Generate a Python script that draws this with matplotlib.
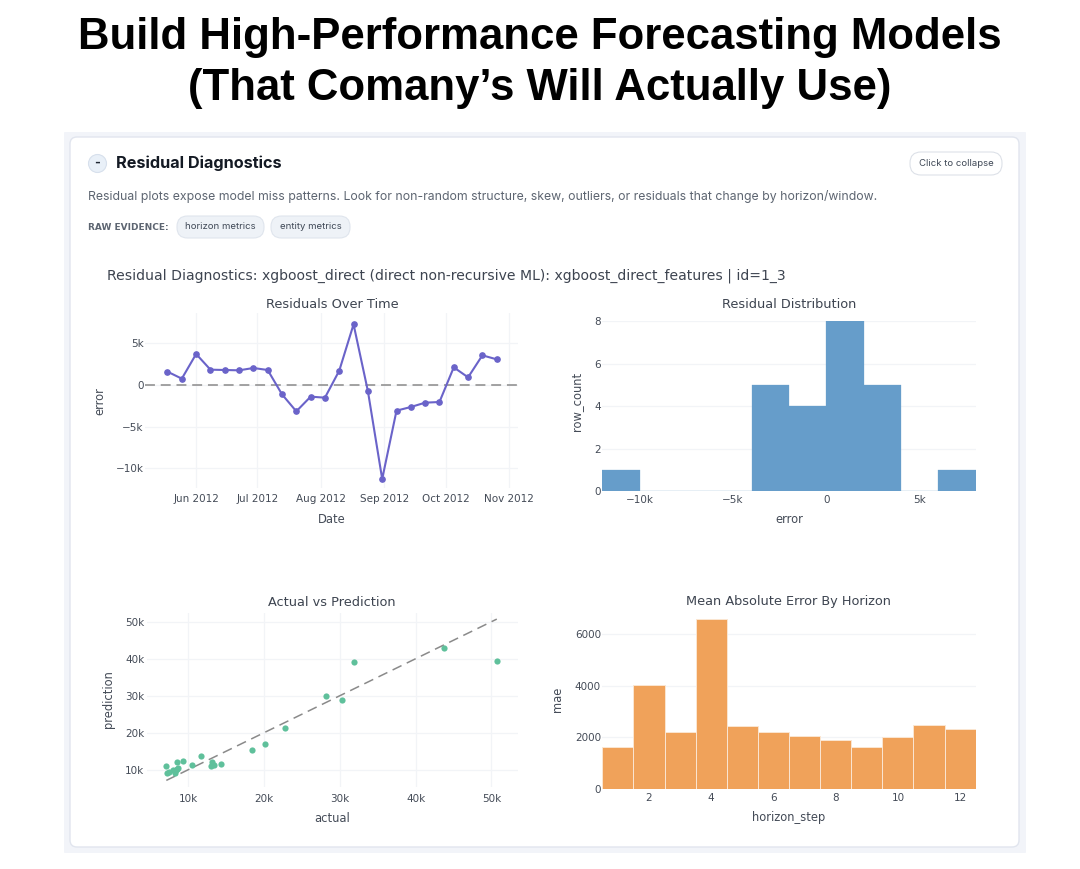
import matplotlib
matplotlib.use("Agg")
import matplotlib.pyplot as plt
import matplotlib.dates as mdates
import pandas as pd
from matplotlib.patches import FancyBboxPatch, Circle

W, H = 1080, 869

# ---- data ----
dates = pd.date_range("2012-05-18", periods=24, freq="7D")
residuals = [1600, 760, 3720, 1840, 1800, 1760, 2040, 1800, -1120, -3160, -1400, -1520,
             1720, 7280, -720, -11280, -3080, -2640, -2120, -2040, 2120, 920, 3560, 3080]
hist_edges = [-12000, -10000, -8000, -6000, -4000, -2000, 0, 2000, 4000, 6000, 8000]
actual = [7.1, 7.2, 7.5, 8.0, 8.2, 8.4, 8.5, 8.55, 8.7, 9.3, 10.5, 11.7, 13.1, 13.0, 13.4, 14.3,
          18.35, 20.1, 22.7, 28.2, 30.3, 31.9, 43.7, 50.7]
prediction = [10.9, 9.1, 9.4, 9.8, 9.1, 9.8, 12.1, 10.3, 10.45, 12.4, 11.4, 13.8, 12.0, 11.1, 11.35, 11.6,
              15.2, 16.9, 21.3, 30.0, 28.8, 39.2, 43.0, 39.4]
actual = [v * 1000 for v in actual]
prediction = [v * 1000 for v in prediction]
identity = [7100, 50700]
horizon = list(range(1, 13))
mae = [1640, 4035, 2200, 6585, 2445, 2200, 2057, 1900, 1617, 2030, 2497, 2315]

res_yticks = [-10000, -5000, 0, 5000]
res_ylabels = ["\u221210k", "\u22125k", "0", "5k"]
hist_xticks = [-10000, -5000, 0, 5000]
hist_xlabels = ["\u221210k", "\u22125k", "0", "5k"]
sc_ticks = [10000, 20000, 30000, 40000, 50000]
sc_labels = ["10k", "20k", "30k", "40k", "50k"]

# ---- colours ----
C_LINE = "#6a63c9"
C_HIST = "#669dca"
C_SC = "#5fc09b"
C_BAR = "#f0a25a"
C_GRID = "#f2f4f7"
C_TXT = "#444b57"
C_DASH = "#8a8a8a"
SANS = ["DejaVu Sans"]
UI = ["Inter", "DejaVu Sans"]

fig = plt.figure(figsize=(W / 100, H / 100), dpi=100, facecolor="white")

# page layer in pixel coordinates
bg = fig.add_axes([0, 0, 1, 1], zorder=0)
bg.set_xlim(0, W)
bg.set_ylim(H, 0)
bg.axis("off")


def rbox(x0, y0, x1, y1, r, fc, ec, lw=1.0):
    bg.add_patch(FancyBboxPatch((x0 + r, y0 + r), x1 - x0 - 2 * r, y1 - y0 - 2 * r,
                                boxstyle=f"round,pad={r},rounding_size={r}",
                                fc=fc, ec=ec, lw=lw))


rbox(64, 132, 1026, 853, 1, "#f2f4f9", "none", 0)
rbox(70, 137, 1019, 847, 7, "white", "#e1e5ee", 1.0)

for line, y in (("Build High-Performance Forecasting Models", 38),
                ("(That Comany\u2019s Will Actually Use)", 88.5)):
    bg.text(540, y, line, ha="center", va="center", fontsize=31.5, fontweight="bold",
            family=["Liberation Sans"], color="black")

bg.add_patch(Circle((97.5, 163.5), 9, fc="#e9f0f8", ec="#d7e0ec", lw=0.8))
bg.text(97.5, 163, "-", ha="center", va="center", fontsize=9, fontweight="bold",
        family=UI, color="#1f2733")
bg.text(116, 163, "Residual Diagnostics", ha="left", va="center", fontsize=11.7,
        fontweight="bold", family=UI, color="#141a24")
bg.text(88, 196.5, "Residual plots expose model miss patterns. Look for non-random structure, skew, "
        "outliers, or residuals that change by horizon/window.", ha="left", va="center",
        fontsize=8.83, family=UI, color="#5d6571")
bg.text(88, 227, "RAW EVIDENCE:", ha="left", va="center", fontsize=6.45,
        fontweight="bold", family=SANS, color="#5d6571")
rbox(177, 216, 264, 238, 10.5, "#eef2f7", "#dfe5ed", 0.8)
bg.text(220.5, 226.5, "horizon metrics", ha="center", va="center", fontsize=6.9, family=UI, color="#3f4856")
rbox(271, 216, 350, 238, 10.5, "#eef2f7", "#dfe5ed", 0.8)
bg.text(310.5, 226.5, "entity metrics", ha="center", va="center", fontsize=6.9, family=UI, color="#3f4856")
rbox(910, 152, 1002, 175, 11, "white", "#dde1e8", 0.8)
bg.text(956, 163.5, "Click to collapse", ha="center", va="center", fontsize=6.9, family=UI, color="#3f4856")
bg.text(107, 276, "Residual Diagnostics: xgboost_direct (direct non-recursive ML): "
        "xgboost_direct_features | id=1_3", ha="left", va="center", fontsize=10.1,
        family=SANS, color="#3d4450")


def make_axes(x0, y0, x1, y1, title, tx, ty, xlabel, xl, ylabel, yl):
    """Axes placed by pixel box; title and axis labels placed by pixel centre."""
    ax = fig.add_axes([x0 / W, 1 - y1 / H, (x1 - x0) / W, (y1 - y0) / H], zorder=1)
    ax.patch.set_alpha(0)
    for s in ax.spines.values():
        s.set_visible(False)
    ax.grid(True, color=C_GRID, lw=0.9)
    ax.set_axisbelow(True)
    ax.tick_params(length=0, labelsize=7.5, labelcolor=C_TXT, pad=3)
    ax.set_xlabel(xlabel, fontsize=8.3, color=C_TXT, va="center")
    ax.set_ylabel(ylabel, fontsize=8.3, color=C_TXT, va="center")
    ax.xaxis.set_label_coords((xl[0] - x0) / (x1 - x0), (y1 - xl[1]) / (y1 - y0))
    ax.yaxis.set_label_coords((yl[0] - x0) / (x1 - x0), (y1 - yl[1]) / (y1 - y0))
    bg.text(tx, ty, title, ha="center", va="center", fontsize=9.3, family=SANS, color="#3d4450")
    return ax


# Residuals over time
ax1 = make_axes(145, 313, 518, 488, "Residuals Over Time", 332, 304,
                "Date", (332, 519.5), "error", (100, 401))
ax1.set_xlim(pd.Timestamp("2012-05-07"), pd.Timestamp("2012-11-05 10:00"))
ax1.set_ylim(-12360, 8640)
ax1.axhline(0, color=C_DASH, lw=1.1, dashes=(6.5, 3.8), zorder=1.5)
ax1.plot(dates, residuals, color=C_LINE, lw=1.5, marker="o", ms=3.8, mec=C_LINE, zorder=3)
ax1.set_yticks(res_yticks, res_ylabels)
ax1.xaxis.set_major_locator(mdates.MonthLocator())
ax1.xaxis.set_major_formatter(mdates.DateFormatter("%b %Y"))
ax1.tick_params(axis="x", pad=4.5)
ax1.tick_params(axis="y", pad=1)

# Residual distribution
ax2 = make_axes(602.3, 321, 975.7, 491, "Residual Distribution", 789, 304,
                "error", (789, 519.5), "row_count", (577, 401))
ax2.hist(residuals, bins=hist_edges, color=C_HIST, ec=C_HIST, lw=0.2, zorder=2)
ax2.set_xlim(-12000, 8000)
ax2.set_ylim(0, 8)
ax2.set_xticks(hist_xticks, hist_xlabels)
ax2.set_yticks([0, 2, 4, 6, 8])
ax2.xaxis.grid(False)
ax2.tick_params(axis="x", pad=3)
ax2.tick_params(axis="y", pad=1)

# Actual vs prediction
ax3 = make_axes(147, 613, 518, 787, "Actual vs Prediction", 332, 602,
                "actual", (332, 818), "prediction", (108, 699))
ax3.set_xlim(4550, 53500)
ax3.set_ylim(5320, 52350)
ax3.plot(identity, identity, color=C_DASH, lw=1.1, dashes=(6.5, 3.8), zorder=2)
ax3.scatter(actual, prediction, s=20, color=C_SC, lw=0, zorder=3)
ax3.set_xticks(sc_ticks, sc_labels)
ax3.set_yticks(sc_ticks, sc_labels)
ax3.tick_params(axis="x", pad=5)
ax3.tick_params(axis="y", pad=2)

# MAE by horizon
ax4 = make_axes(602.3, 618, 975.7, 789, "Mean Absolute Error By Horizon", 789, 602,
                "horizon_step", (789, 818), "mae", (558, 699))
ax4.bar(horizon, mae, width=1.0, color=C_BAR, ec="#fbe6d2", lw=0.7, zorder=2)
ax4.set_xlim(0.5, 12.5)
ax4.set_ylim(0, 6620)
ax4.set_xticks([2, 4, 6, 8, 10, 12])
ax4.set_yticks([0, 2000, 4000, 6000])
ax4.xaxis.grid(False)
ax4.tick_params(axis="x", pad=3)
ax4.tick_params(axis="y", pad=1)

fig.savefig("out.png", dpi=100, facecolor="white")
